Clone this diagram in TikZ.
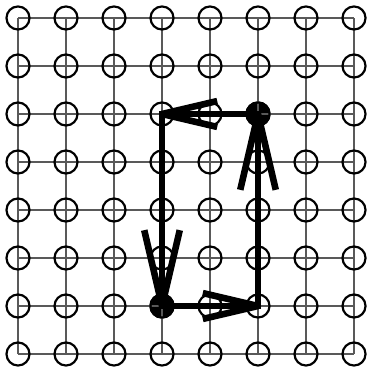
\documentclass[tikz,border=0pt]{standalone}
\begin{document}
\begin{tikzpicture}[ring/.style={line width=1.3pt}, walk/.style={line width=3.9pt}]
  \useasboundingbox (-0.375,-0.354) rectangle (7.25,7.375);
  \coordinate (A) at (5,5); \coordinate (B) at (3,5); \coordinate (C) at (3,1); \coordinate (D) at (5,1);
  \fill (A) circle (0.265); \fill (C) circle (0.265);
  \draw[black!65, line width=0.65pt] (0,0) grid (7,7);
  \foreach \i in {0,...,7}
    \foreach \j in {0,...,7}
      \draw[ring] (\i,\j) circle (0.24);
  \draw[walk] (A) -- (B) -- (C) -- (D) -- cycle;
  % arrow heads
  \draw[walk] (B) -- ++(1.15,0.27) (B) -- ++(1.15,-0.27);
  \draw[walk] (C) -- ++(-0.37,1.58) (C) -- ++(0.37,1.58);
  \draw[walk] (D) -- ++(-1.15,0.27) (D) -- ++(-1.15,-0.27);
  \draw[walk] (A) -- ++(-0.37,-1.58) (A) -- ++(0.37,-1.58);
\end{tikzpicture}
\end{document}
